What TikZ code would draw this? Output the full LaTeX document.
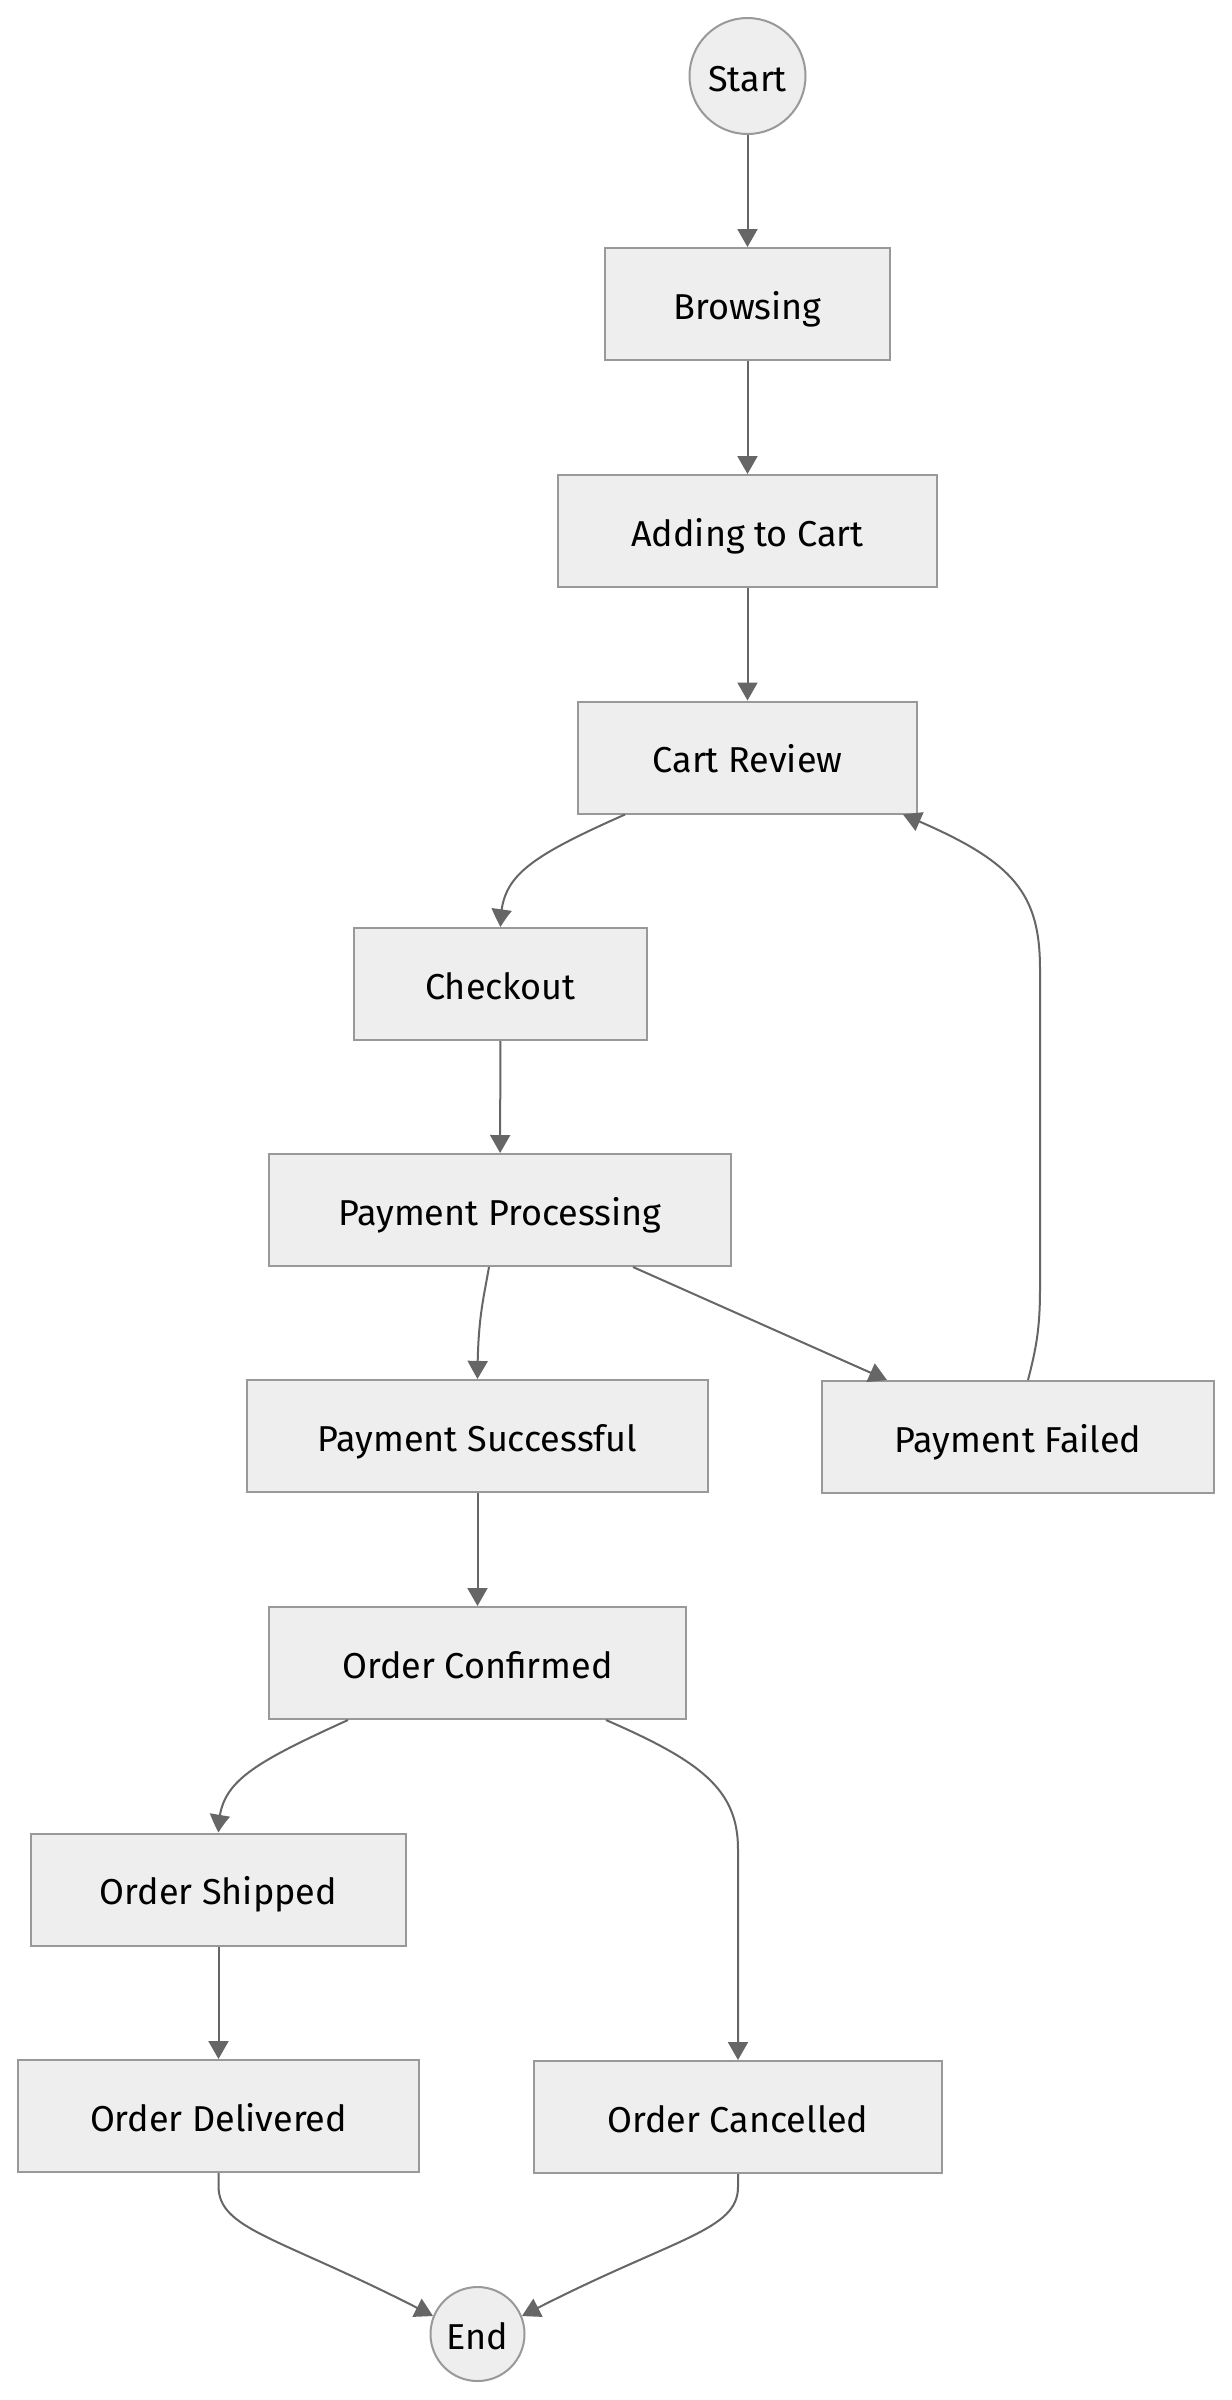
\documentclass[tikz,border=0pt]{standalone}
\usepackage{fontspec}
\setmainfont{Fira Sans}
\usetikzlibrary{arrows.meta,calc,bending}
\definecolor{nodefill}{HTML}{EEEEEE}
\definecolor{nodeline}{HTML}{999999}
\definecolor{edgeline}{HTML}{666666}
\begin{document}
\begin{tikzpicture}[x=0.5pt,y=-0.5pt,
  font=\fontsize{18pt}{20pt}\selectfont,
  statebox/.style={draw=nodeline,fill=nodefill,line width=1pt,rectangle,inner sep=0pt,
    minimum height=56pt,text height=15pt,text depth=0pt,text=black},
  statecirc/.style={draw=nodeline,fill=nodefill,line width=1pt,circle,inner sep=0pt,
    text height=15pt,text depth=0pt,text=black},
  edge/.style={draw=edgeline,line width=1pt,-{Triangle[length=9pt,width=10pt,bend]}}]
\useasboundingbox (0,0) rectangle (1232,2400);
\fill[white] (0,0) rectangle (1232,2400);

\node[statecirc,minimum size=58pt] (start) at (747.5,76) {Start};
\node[statebox,minimum width=142.5pt] (browsing) at (747.5,304) {Browsing};
\node[statebox,minimum width=189.5pt] (adding) at (747.5,531) {Adding to Cart};
\node[statebox,minimum width=169.5pt] (cartreview) at (747.5,757.5) {Cart Review};
\node[statebox,minimum width=146.5pt] (checkout) at (500.5,984) {Checkout};
\node[statebox,minimum width=231pt] (pp) at (500,1210) {Payment Processing};
\node[statebox,minimum width=230.5pt] (ps) at (477.5,1436) {Payment Successful};
\node[statebox,minimum width=196pt] (pf) at (1018,1437) {Payment Failed};
\node[statebox,minimum width=208.5pt] (oc) at (477.5,1663) {Order Confirmed};
\node[statebox,minimum width=187.5pt] (os) at (218.5,1889.5) {Order Shipped};
\node[statebox,minimum width=200.5pt] (od) at (218.5,2116) {Order Delivered};
\node[statebox,minimum width=204pt] (ocan) at (738,2117) {Order Cancelled};
\node[statecirc,minimum size=47pt] (end) at (477.5,2334) {End};

\draw[edge] (start) -- (browsing);
\draw[edge] (browsing) -- (adding);
\draw[edge] (adding) -- (cartreview);
\draw[edge] ($(cartreview.south)+(-122.5,0)$) .. controls ($(checkout.north)+(19.5,-66)$) and ($(checkout.north)+(0,-48)$) .. (checkout.north);
\draw[edge] (checkout) -- (pp);
\draw[edge] ($(pp.south)+(-11,0)$) .. controls ($(ps.north)+(6,-80)$) and ($(ps.north)+(0,-60)$) .. (ps.north);
\draw[edge] ($(pp.south)+(133,0)$) -- ($(pf.north)+(-131,0)$);
\draw[edge] ($(pf.north)+(10,0)$) .. controls ($(pf.north)+(18,-31)$) and ($(pf.north)+(22,-51)$) .. ($(pf.north)+(22,-91)$)
  -- ($(pf.north)+(22,-411)$) .. controls ($(pf.north)+(22,-491)$) and ($(pf.north)+(-8,-521)$) .. ($(cartreview.south)+(155.5,0)$);
\draw[edge] (ps) -- (oc);
\draw[edge] ($(oc.south)+(-129.5,0)$) .. controls ($(os.north)+(25,-65)$) and ($(os.north)+(0,-48)$) .. (os.north);
\draw[edge] ($(oc.south)+(128.5,0)$) .. controls ($(ocan.north)+(-38,-299)$) and ($(ocan.north)+(0,-271)$) .. ($(ocan.north)+(0,-211)$) -- (ocan.north);
\draw[edge] (os) -- (od);
\draw[edge] (od.south) -- ($(od.south)+(0,13)$) .. controls ($(od.south)+(0,58)$) and ($(od.south)+(63.5,64)$) .. (end.158);
\draw[edge] (ocan.south) -- ($(ocan.south)+(0,13)$) .. controls ($(ocan.south)+(0,58)$) and ($(ocan.south)+(-67,64)$) .. (end.22);
\end{tikzpicture}
\end{document}
